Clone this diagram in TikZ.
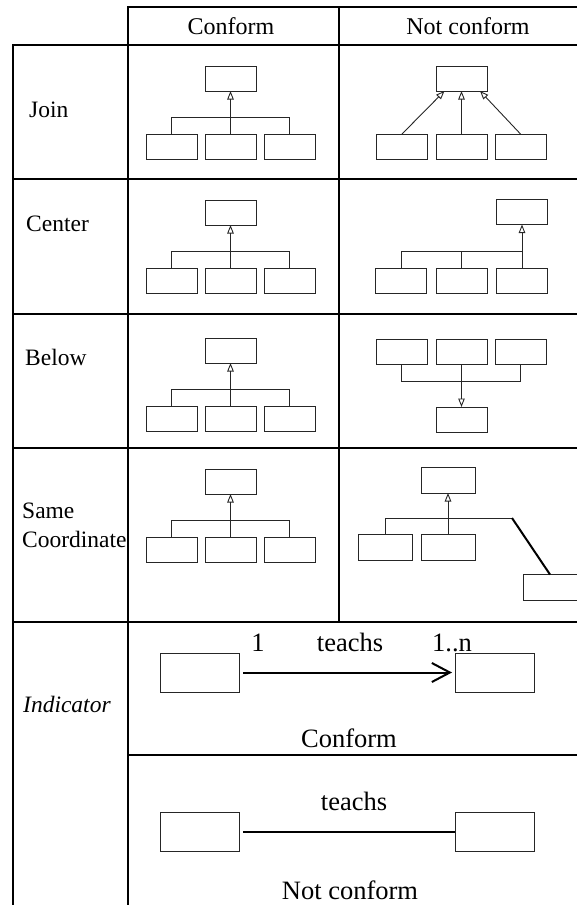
\documentclass[tikz,border=0pt]{standalone}
\usepackage{fontspec}
\setmainfont{Liberation Serif}
\usetikzlibrary{arrows.meta,calc}

\tikzset{
  grid/.style={line width=1.8pt, line cap=rect},
  box/.style={draw=black!85, line width=0.9pt, minimum width=51pt, minimum height=25pt,
              inner sep=0pt, outer sep=0pt},
  widebox/.style={box, minimum width=54pt, minimum height=26pt},
  relbox/.style={draw=black!85, line width=0.9pt, minimum width=79pt, minimum height=39pt,
              inner sep=0pt, outer sep=0pt},
  link/.style={draw=black!85, line width=0.9pt},
  gen/.style={link, -{Triangle[open, length=8.5pt, width=6.5pt, line width=0.9pt]}},
  heavy/.style={draw=black, line width=2pt},
  hdr/.style={font=\fontsize{24}{28}\selectfont, inner sep=0pt, anchor=base},
  lbl/.style={font=\fontsize{23.5}{28}\selectfont, inner sep=0pt, anchor=base west},
  rel/.style={font=\fontsize{26.5}{30}\selectfont, inner sep=0pt, anchor=base},
}

% Conforming generalisation: parent above, three children joined by one bus
\newcommand\conformtree[2]{%
  \begin{scope}[shift={(0,#2)}]
    \node[box] (#1t) at (230.5,33.5) {};
    \node[box] (#1a) at (171.5,101.5) {};
    \node[box] (#1b) at (230.5,101.5) {};
    \node[box] (#1c) at (289.5,101.5) {};
    \coordinate (#1bus) at (0,72);
    \draw[link] (#1a.north) |- (#1c.north |- #1bus) -- (#1c.north);
    \draw[gen] (#1b.north) -- (#1t.south);
  \end{scope}}

\begin{document}
\begin{tikzpicture}[x=1pt, y=-1pt]
\useasboundingbox (0,0) rectangle (577,905);

% ---- table rules ----
\draw[grid] (128,7) -- (577,7);
\draw[grid] (13,45) -- (577,45);
\draw[grid] (13,179) -- (577,179);
\draw[grid] (13,314) -- (577,314);
\draw[grid] (13,448) -- (577,448);
\draw[grid] (13,622) -- (577,622);
\draw[grid] (128,755) -- (577,755);
\draw[grid] (13,45) -- (13,905);
\draw[grid] (128,7) -- (128,905);
\draw[grid] (339,7) -- (339,622);

% ---- headings ----
\node[hdr] (hconf) at (231,34) {Conform};
\node[hdr] (hnconf) at (468,34) {Not conform};

\node[lbl] (ljoin) at (29,117) {Join};
\node[lbl] (lcenter) at (26,231) {Center};
\node[lbl] (lbelow) at (25,365) {Below};
\node[lbl] (lsame) at (22,518) {Same};
\node[lbl] (lcoord) at (22,547) {Coordinate};
\node[lbl] (lind) at (23,712) {\itshape Indicator};

% ---- conforming trees ----
\conformtree{cj}{45}
\conformtree{cc}{179}
\conformtree{cb}{317}
\conformtree{cs}{448}

% ---- Join, not conform: separate arrows ----
\node[box] (njt) at (461.5,78.5) {};
\node[box] (nja) at (402,146.5) {};
\node[box] (njb) at (461.5,146.5) {};
\node[box] (njc) at (520.5,146.5) {};
\draw[gen] (nja.north) -- ($(njt.south)+(-17,0)$);
\draw[gen] (njb.north) -- (njt.south);
\draw[gen] (njc.north) -- ($(njt.south)+(18.5,0)$);

% ---- Center, not conform: parent off-centre ----
\node[box] (nct) at (522,212) {};
\node[box] (nca) at (401,280.5) {};
\node[box] (ncb) at (461.5,280.5) {};
\node[box] (ncc) at (522,280.5) {};
\coordinate (ncbus) at (0,251);
\draw[link] (nca.north) |- (ncc.north |- ncbus);
\draw[link] (ncb.north) -- (ncb.north |- ncbus);
\draw[gen] (ncc.north) -- (nct.south);

% ---- Below, not conform: parent underneath ----
\node[box] (nba) at (401.5,351.5) {};
\node[box] (nbb) at (461.5,351.5) {};
\node[box] (nbc) at (520.5,351.5) {};
\node[box] (nbt) at (461.5,419.5) {};
\coordinate (nbbus) at (0,381);
\draw[link] (nba.south) |- (nbc.south |- nbbus) -- (nbc.south);
\draw[gen] (nbb.south) -- (nbt.north);

% ---- Same coordinate, not conform: one child dropped lower ----
\node[widebox] (nst) at (448,480) {};
\node[widebox] (nsa) at (385,547) {};
\node[widebox] (nsb) at (448,547) {};
\node[widebox] (nsc) at (550,587.5) {};
\coordinate (nsbend) at (512,518);
\draw[link] (nsa.north) |- (nsbend);
\draw[heavy] (nsbend) -- (nsc.north);
\draw[gen] (nsb.north) -- (nst.south);

% ---- Indicator, conform ----
\node[relbox] (ia) at (199.5,672.5) {};
\node[relbox] (ib) at (494.5,672.5) {};
\draw[heavy, shorten <=4pt, shorten >=3pt,
      -{Straight Barb[length=18pt, width=19pt, line width=2pt]}] (ia.east) -- (ib.west);
\node[rel] (im1) at (258,651) {1};
\node[rel] (iname) at (350,651) {teachs};
\node[rel, anchor=base west] (imn) at (432,651) {1..n};
\node[rel] (iconf) at (349,747) {Conform};

% ---- Indicator, not conform ----
\node[relbox] (na) at (199.5,831.5) {};
\node[relbox] (nb) at (494.5,831.5) {};
\draw[heavy, shorten <=4pt] (na.east) -- (nb.west);
\node[rel] (nname) at (354,810) {teachs};
\node[rel] (nconf) at (350,899) {Not conform};

\end{tikzpicture}
\end{document}
